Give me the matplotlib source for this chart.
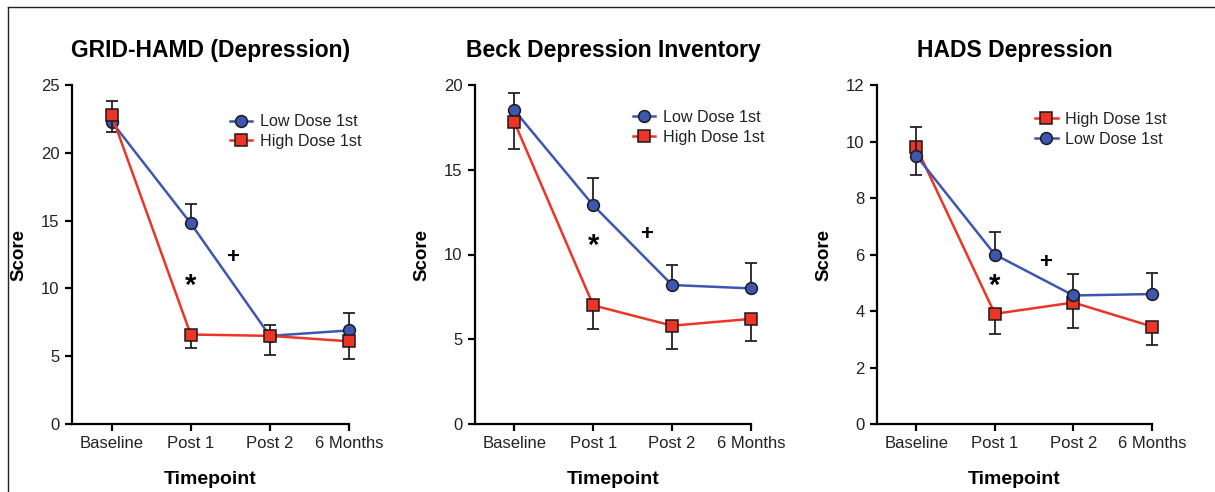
import numpy as np
import matplotlib
matplotlib.use("Agg")
import matplotlib.pyplot as plt
from matplotlib.lines import Line2D

plt.rcParams['font.family'] = ['Liberation Sans', 'DejaVu Sans']

timepoints = ["Baseline", "Post 1", "Post 2", "6 Months"]
titles = ["GRID-HAMD (Depression)", "Beck Depression Inventory", "HADS Depression"]

# means, low dose 1st (error bar drawn upward) / high dose 1st (error bar drawn downward)
low_mean = [
    [22.3, 14.8, 6.5, 6.9],
    [18.5, 12.9, 8.2, 8.0],
    [9.5, 6.0, 4.55, 4.6],
]
low_err = [
    [1.5, 1.4, 0.8, 1.3],
    [1.0, 1.6, 1.2, 1.5],
    [1.0, 0.8, 0.75, 0.75],
]
high_mean = [
    [22.8, 6.6, 6.5, 6.1],
    [17.8, 7.0, 5.8, 6.2],
    [9.8, 3.9, 4.3, 3.45],
]
high_err = [
    [1.3, 1.0, 1.4, 1.3],
    [1.6, 1.4, 1.4, 1.3],
    [1.0, 0.7, 0.9, 0.65],
]
ymax = [25, 20, 12]
ystep = [5, 5, 2]
# significance marks: (x, y)
star_pos = [(1, 10.2), (1, 10.5), (1, 4.9)]
plus_pos = [(1.53, 12.3), (1.68, 11.2), (1.64, 5.7)]
high_first = [False, False, True]   # legend / draw order

BLUE = "#3f56b0"
RED = "#ec3526"

fig = plt.figure(figsize=(12.15, 4.92), dpi=100)

lefts = [72, 475, 877]
rights = [349, 751, 1152]
top, bottom = 85, 424
W, H = 1215, 492
leg_anchor = [(0.57, 0.914), (0.572, 0.926), (0.575, 0.92)]

x = np.arange(len(timepoints))

for i in range(3):
    ax = fig.add_axes([lefts[i] / W, 1 - bottom / H, (rights[i] - lefts[i]) / W, (bottom - top) / H])

    def draw_low(z):
        eb = ax.errorbar(x, low_mean[i], yerr=[np.zeros(4), low_err[i]], fmt='none',
                         ecolor='#222222', elinewidth=1.3, capsize=4, capthick=1.3, zorder=z - 1)
        for art in eb.lines[1] + eb.lines[2]:
            art.set_clip_on(False)
        return ax.plot(x, low_mean[i], '-', color=BLUE, lw=1.8, marker='o', ms=8.5,
                       mfc=BLUE, mec='#1a1a1a', mew=1.1, label="Low Dose 1st",
                       zorder=z, clip_on=False)[0]

    def draw_high(z):
        eb = ax.errorbar(x, high_mean[i], yerr=[high_err[i], np.zeros(4)], fmt='none',
                         ecolor='#222222', elinewidth=1.3, capsize=4, capthick=1.3, zorder=z - 1)
        for art in eb.lines[1] + eb.lines[2]:
            art.set_clip_on(False)
        return ax.plot(x, high_mean[i], '-', color=RED, lw=1.8, marker='s', ms=8,
                       mfc=RED, mec='#1a1a1a', mew=1.1, label="High Dose 1st",
                       zorder=z, clip_on=False)[0]

    if high_first[i]:
        h1 = draw_high(3)
        h2 = draw_low(5)
    else:
        h1 = draw_low(3)
        h2 = draw_high(5)

    ax.text(star_pos[i][0], star_pos[i][1], "*", ha='center', va='center',
            fontsize=21, fontweight='bold')
    ax.text(plus_pos[i][0], plus_pos[i][1], "+", ha='center', va='center',
            fontsize=16, fontweight='bold')

    ax.set_xlim(-0.5, 3)
    ax.set_ylim(0, ymax[i])
    ax.set_yticks(np.arange(0, ymax[i] + 0.1, ystep[i]))
    ax.set_xticks(x)
    ax.set_xticklabels(timepoints)
    for s in ['top', 'right']:
        ax.spines[s].set_visible(False)
    for s in ['left', 'bottom']:
        ax.spines[s].set_linewidth(1.6)
    ax.tick_params(direction='out', length=5, width=1.6, labelsize=12,
                   labelcolor='#222222', pad=4)

    ax.set_title(titles[i], fontsize=16.5, fontweight='bold', y=1.078, va='center')
    ax.set_ylabel("Score", fontsize=13.5, fontweight='bold', labelpad=10)
    ax.set_xlabel("Timepoint", fontsize=14, fontweight='bold', labelpad=14)

    ax.legend(handles=[h1, h2], loc='upper left', bbox_to_anchor=leg_anchor[i],
              frameon=False, fontsize=11.6, handlelength=1.4, handletextpad=0.45,
              labelspacing=0.3, borderpad=0, borderaxespad=0, labelcolor='#222222')

# partial frame around the figure (top and left edges)
fig.add_artist(Line2D([8 / W, 1], [1 - 7 / H, 1 - 7 / H], color='#222222', lw=1.0))
fig.add_artist(Line2D([8 / W, 8 / W], [0, 1 - 7 / H], color='#222222', lw=1.0))

fig.savefig("out.png", dpi=100)
